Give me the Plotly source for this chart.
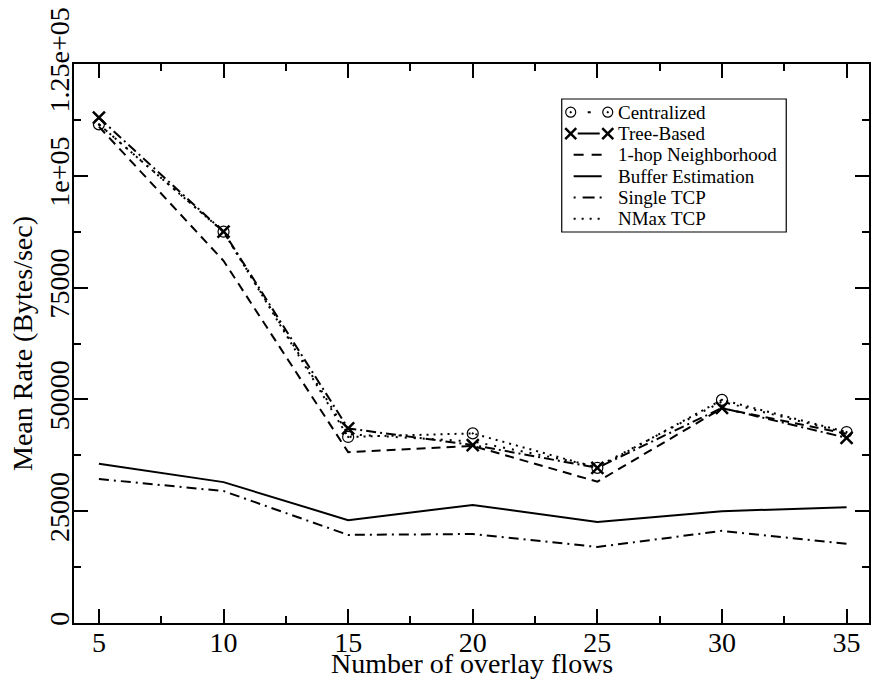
import plotly.graph_objects as go

flows = [5, 10, 15, 20, 25, 30, 35]

centralized = [111500, 87500, 41600, 42400, 34700, 49900, 42700]
tree_based = [113000, 87500, 43500, 39800, 34700, 48100, 41400]
one_hop = [111000, 81000, 38200, 39600, 31600, 48000, 42300]
buffer_est = [35600, 31500, 23000, 26400, 22600, 25000, 25900]
single_tcp = [32200, 29500, 19700, 19900, 17000, 20600, 17700]
nmax_tcp = [111500, 87500, 42200, 40600, 35000, 49500, 42500]

series_names = ["Centralized", "Tree-Based", "1-hop Neighborhood",
                "Buffer Estimation", "Single TCP", "NMax TCP"]

y_tickvals = [0, 25000, 50000, 75000, 100000, 125000]
y_ticktext = ["0", "25000", "50000", "75000", "1e+05", "1.25e+05"]
x_tickvals = [5, 10, 15, 20, 25, 30, 35]

FONT = "Liberation Serif"

CIRCLE = dict(symbol="circle-open-dot", size=11, color="black",
              line=dict(width=1.2, color="black"))
CROSS = dict(symbol="x-thin-open", size=12, color="black",
             line=dict(width=2.5, color="black"))

fig = go.Figure()

# data lines
fig.add_trace(go.Scatter(x=flows, y=one_hop, mode="lines", name=series_names[2],
                         line=dict(color="black", width=2, dash="9px,6px")))
fig.add_trace(go.Scatter(x=flows, y=nmax_tcp, mode="lines", name=series_names[5],
                         line=dict(color="black", width=2, dash="2px,7px")))
fig.add_trace(go.Scatter(x=flows, y=centralized, mode="lines+markers", name=series_names[0],
                         line=dict(color="black", width=2, dash="2px,5px"), marker=CIRCLE))
fig.add_trace(go.Scatter(x=flows, y=tree_based, mode="lines+markers", name=series_names[1],
                         line=dict(color="black", width=2, dash="10px,4px,2px,4px"), marker=CROSS))
fig.add_trace(go.Scatter(x=flows, y=buffer_est, mode="lines", name=series_names[3],
                         line=dict(color="black", width=2)))
fig.add_trace(go.Scatter(x=flows, y=single_tcp, mode="lines", name=series_names[4],
                         line=dict(color="black", width=2, dash="10px,5px,2px,5px")))

# key box drawn on its own small axes: row index on y, sample geometry on x
key_rows = list(range(len(series_names)))
marker_x = [0.04, 0.205]   # sample ends for entries with markers (fraction of key width)
line_x = [0.053, 0.178]    # sample ends for plain line entries
text_x = 0.24

def key_sample(row, xs, mode, line, marker=None):
    kw = dict(x=xs, y=[row, row], mode=mode, xaxis="x2", yaxis="y2",
              line=dict(color="black", width=2, **line), cliponaxis=False)
    if marker:
        kw["marker"] = dict(marker, size=marker["size"] - 1)
    fig.add_trace(go.Scatter(**kw))

key_sample(key_rows[0], marker_x, "lines+markers", dict(dash="0px,17px,3px,100px"), CIRCLE)
key_sample(key_rows[1], marker_x, "lines+markers", dict(dash="0px,7px,22px,100px"), CROSS)
key_sample(key_rows[2], line_x, "lines", dict(dash="10px,8px"))
key_sample(key_rows[3], line_x, "lines", dict(dash="solid"))
key_sample(key_rows[4], line_x, "lines", dict(dash="2px,7px,12px,5px,2px,100px"))
key_sample(key_rows[5], line_x, "lines", dict(dash="2px,6px"))

for row, name in zip(key_rows, series_names):
    fig.add_annotation(x=text_x, y=row, xref="x2", yref="y2", text=name,
                       showarrow=False, xanchor="left", yanchor="middle",
                       font=dict(family=FONT, size=19, color="black"))

fig.add_shape(type="rect", xref="x2 domain", yref="y2 domain", x0=0, x1=1, y0=0, y1=1,
              line=dict(color="black", width=1.2), fillcolor="rgba(0,0,0,0)")

axis_common = dict(
    showline=True, linecolor="black", linewidth=2, mirror="ticks",
    ticks="inside", ticklen=14, tickwidth=1.5, tickcolor="black",
    showgrid=False, zeroline=False,
    tickfont=dict(family=FONT, size=28, color="black"),
)

fig.update_layout(
    xaxis=dict(
        range=[4, 35.9], tickvals=x_tickvals, ticklabelstandoff=-7,
        minor=dict(ticks="inside", ticklen=7, tickwidth=1.5, tickcolor="black", dtick=2.5, tick0=0),
        **axis_common,
    ),
    yaxis=dict(
        range=[0, 125000], tickvals=y_tickvals, ticktext=y_ticktext, tickangle=-90,
        ticklabelstandoff=-8,
        minor=dict(ticks="inside", ticklen=7, tickwidth=1.5, tickcolor="black", dtick=12500, tick0=0),
        **axis_common,
    ),
    xaxis2=dict(domain=[0.6135, 0.8959], range=[0, 1], visible=False, anchor="y2"),
    yaxis2=dict(domain=[0.6995, 0.9374], range=[5.62, -0.62], visible=False, anchor="x2"),
    width=871, height=689,
    margin=dict(l=74, r=0, t=64, b=66),
    paper_bgcolor="white", plot_bgcolor="white",
    font=dict(family=FONT, color="black"),
    showlegend=False,
)

fig.add_annotation(text="Number of overlay flows", xref="paper", yref="paper",
                   x=0.5, y=0, yshift=-23, xanchor="center", yanchor="top", showarrow=False,
                   font=dict(family=FONT, size=28, color="black"))
fig.add_annotation(text="Mean Rate (Bytes/sec)", xref="paper", yref="paper",
                   x=0, y=0.5, xshift=-34, xanchor="right", yanchor="middle", textangle=-90,
                   showarrow=False, font=dict(family=FONT, size=28, color="black"))

fig.write_html("out.html")
